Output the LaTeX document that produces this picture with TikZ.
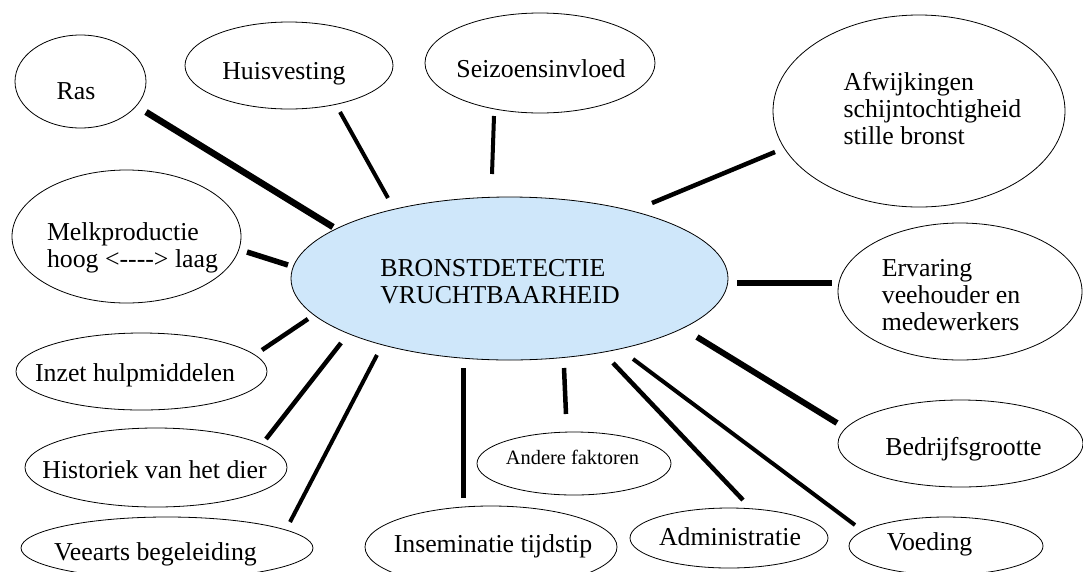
\documentclass[tikz,border=0pt]{standalone}
\usepackage{fontspec}
\setmainfont{Liberation Serif}
\usetikzlibrary{shapes.geometric}
\definecolor{paleblue}{RGB}{207,231,250}
\begin{document}
\begin{tikzpicture}[x=1pt,y=-1pt,
  bub/.style={draw=black, line width=0.8pt, ellipse, inner sep=0pt, fill=white},
  lbl/.style={font=\fontsize{25.8}{27}\selectfont, align=left, inner sep=0pt},
  small/.style={font=\fontsize{20.4}{22}\selectfont, inner sep=0pt},
  link/.style={line width=#1, line cap=butt, draw=black},
]
\useasboundingbox (0,0) rectangle (1083,571);
\clip (0,0) rectangle (1083,571);

% ellipses
\node[bub, fill=paleblue, minimum width=437pt, minimum height=163pt] (main) at (509.5,278.5) {};
\node[bub, minimum width=131pt, minimum height=93pt]  (ras)  at (80.5,81.5) {};
\node[bub, minimum width=208pt, minimum height=87pt]  (huis) at (289,65.5) {};
\node[bub, minimum width=230pt, minimum height=100pt] (seiz) at (540,63) {};
\node[bub, minimum width=292pt, minimum height=192pt] (afw)  at (919,111) {};
\node[bub, minimum width=229pt, minimum height=133pt] (melk) at (126.5,236.5) {};
\node[bub, minimum width=244pt, minimum height=137pt] (erv)  at (960,291.5) {};
\node[bub, minimum width=251pt, minimum height=77pt]  (inz)  at (141.5,371.5) {};
\node[bub, minimum width=262pt, minimum height=79pt]  (hist) at (156,467.5) {};
\node[bub, minimum width=292pt, minimum height=62pt]  (vee)  at (167,548) {};
\node[bub, minimum width=252pt, minimum height=82pt]  (ins)  at (491,547) {};
\node[bub, minimum width=194pt, minimum height=63pt]  (and)  at (574,463.5) {};
\node[bub, minimum width=198pt, minimum height=60pt]  (adm)  at (729,538) {};
\node[bub, minimum width=245pt, minimum height=87pt]  (bedr) at (960.5,443.5) {};
\node[bub, minimum width=194pt, minimum height=58pt]  (voed) at (946,546) {};

% texts
\node[lbl] (mainT) at (500,281.5) {BRONSTDETECTIE\\VRUCHTBAARHEID};
\node[lbl] (rasT)  at (76,91.5) {Ras};
\node[lbl] (huisT) at (284,74) {Huisvesting};
\node[lbl] (seizT) at (541,68.2) {Seizoensinvloed};
\node[lbl] (afwT)  at (932.5,108.2) {Afwijkingen\\schijntochtigheid\\stille bronst};
\node[lbl] (melkT) at (132.5,247.5) {Melkproductie\\hoog <{-}{-}{-}{-}> laag};
\node[lbl] (ervT)  at (951,295.5) {Ervaring\\veehouder en\\medewerkers};
\node[lbl] (inzT)  at (135,375) {Inzet hulpmiddelen};
\node[lbl] (histT) at (154.5,469.2) {Historiek van het dier};
\node[lbl] (veeT)  at (155.5,554) {Veearts begeleiding};
\node[lbl] (insT)  at (493,546) {Inseminatie tijdstip};
\node[small] (andT) at (572.5,457) {Andere faktoren};
\node[lbl] (admT)  at (730,536.2) {Administratie};
\node[lbl] (bedrT) at (963.5,449) {Bedrijfsgrootte};
\node[lbl] (voedT) at (929.5,544) {Voeding};

% connector end points
\coordinate (c-ras1) at (146,112);  \coordinate (c-ras2) at (333,227);
\coordinate (c-huis1) at (340,112); \coordinate (c-huis2) at (388,198);
\coordinate (c-seiz1) at (494,116); \coordinate (c-seiz2) at (492,174);
\coordinate (c-afw1) at (652,203);  \coordinate (c-afw2) at (775,152);
\coordinate (c-melk1) at (247,252); \coordinate (c-melk2) at (288,265);
\coordinate (c-erv1) at (737,283);  \coordinate (c-erv2) at (832,283);
\coordinate (c-inz1) at (262,350);  \coordinate (c-inz2) at (308,319);
\coordinate (c-hist1) at (266,439); \coordinate (c-hist2) at (341,343);
\coordinate (c-vee1) at (290,522);  \coordinate (c-vee2) at (377,355);
\coordinate (c-ins1) at (463,368);  \coordinate (c-ins2) at (463,498);
\coordinate (c-and1) at (564,368);  \coordinate (c-and2) at (566,414);
\coordinate (c-adm1) at (613,363);  \coordinate (c-adm2) at (743,500);
\coordinate (c-voed1) at (633,359); \coordinate (c-voed2) at (855,525);
\coordinate (c-bedr1) at (697,337); \coordinate (c-bedr2) at (837,423);

% connectors
\draw[link=6.5pt] (c-ras1) -- (c-ras2);
\draw[link=4pt]   (c-huis1) -- (c-huis2);
\draw[link=4pt]   (c-seiz1) -- (c-seiz2);
\draw[link=4.5pt] (c-afw1) -- (c-afw2);
\draw[link=5.5pt] (c-melk1) -- (c-melk2);
\draw[link=6.5pt] (c-erv1) -- (c-erv2);
\draw[link=4.5pt] (c-inz1) -- (c-inz2);
\draw[link=4.5pt] (c-hist1) -- (c-hist2);
\draw[link=4pt]   (c-vee1) -- (c-vee2);
\draw[link=5pt]   (c-ins1) -- (c-ins2);
\draw[link=4.5pt] (c-and1) -- (c-and2);
\draw[link=4.5pt] (c-adm1) -- (c-adm2);
\draw[link=4pt]   (c-voed1) -- (c-voed2);
\draw[link=6pt]   (c-bedr1) -- (c-bedr2);
\end{tikzpicture}
\end{document}
